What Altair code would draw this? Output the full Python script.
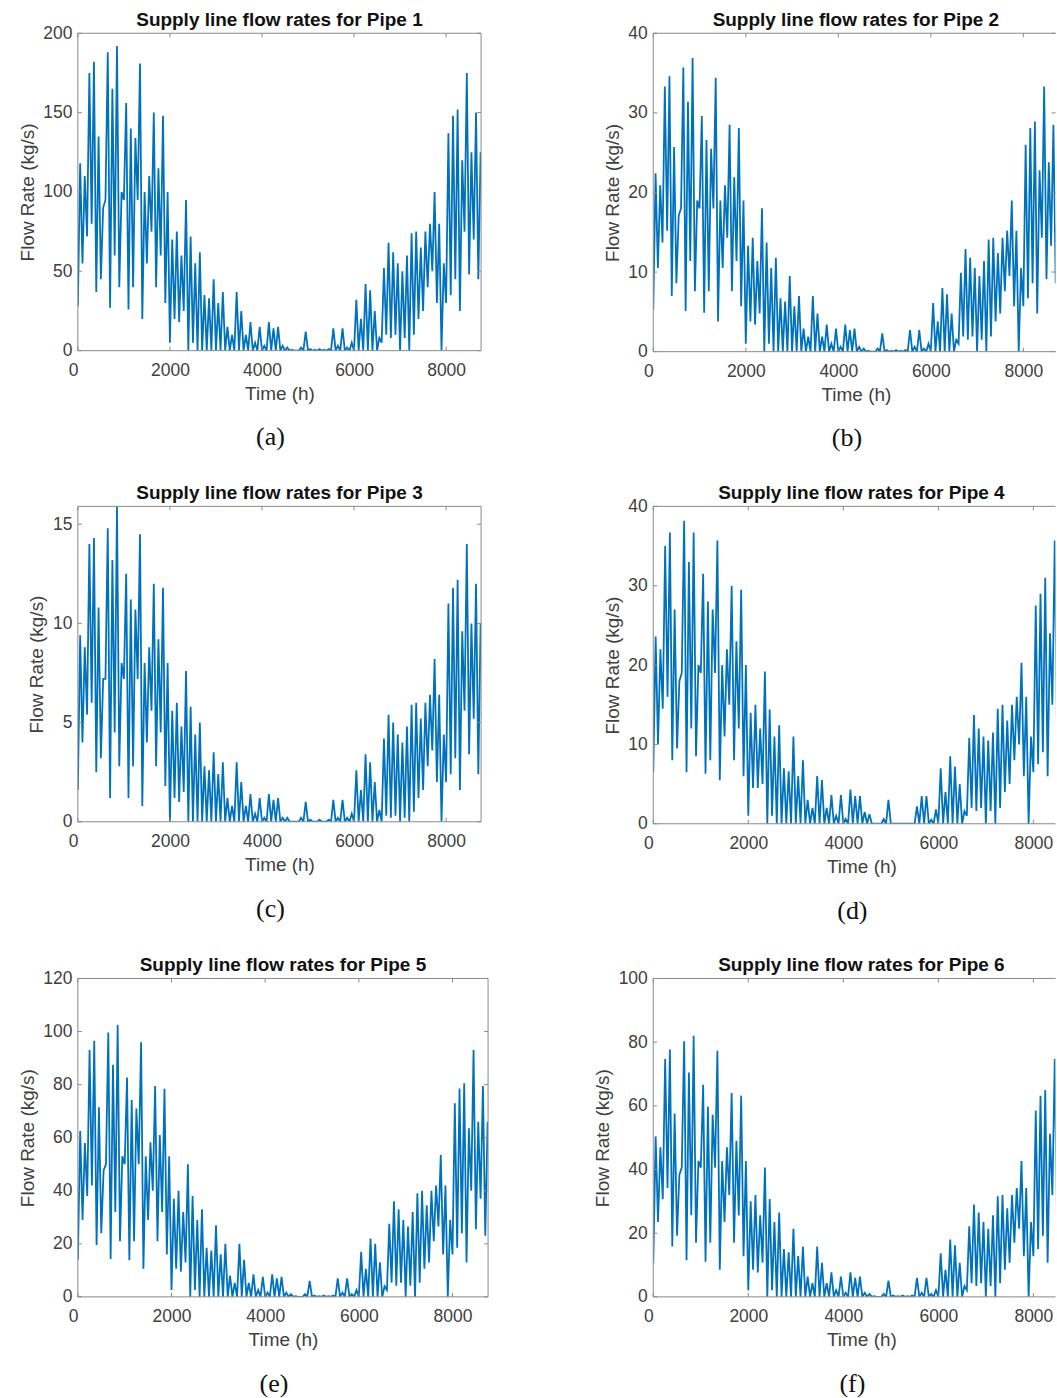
import altair as alt
import pandas as pd

# ---------------- data (hi/lo envelope per 100 h bin) ----------------
BIN_HOURS = 100
X_MAX = 8760
X_TICKS = [0, 2000, 4000, 6000, 8000]

titles = [
    "Supply line flow rates for Pipe 1",
    "Supply line flow rates for Pipe 2",
    "Supply line flow rates for Pipe 3",
    "Supply line flow rates for Pipe 4",
    "Supply line flow rates for Pipe 5",
    "Supply line flow rates for Pipe 6",
]
captions = ["(a)", "(b)", "(c)", "(d)", "(e)", "(f)"]
y_max = [200, 40, 15.9, 40, 120, 100]
y_ticks = [
    [0, 50, 100, 150, 200],
    [0, 10, 20, 30, 40],
    [0, 5, 10, 15],
    [0, 10, 20, 30, 40],
    [0, 20, 40, 60, 80, 100, 120],
    [0, 20, 40, 60, 80, 100],
]

p1_hi = [118, 110, 175, 182, 135, 90, 188, 165, 192, 100,
         156, 140, 134, 181, 100, 110, 150, 115, 148, 100,
         70, 75, 60, 95, 72, 55, 62, 35, 33, 45,
         30, 37, 15, 10, 37, 25, 10, 18, 5, 15,
         3, 18, 14, 15, 3, 2, 0.5, 0, 2, 12,
         1, 0.5, 1, 0.5, 1, 14, 3, 14, 2, 5,
         32, 20, 42, 38, 25, 8, 52, 68, 62, 55,
         50, 60, 74, 75, 65, 75, 80, 100, 80, 55,
         137, 148, 152, 120, 175, 125, 150, 125]
p1_lo = [28, 55, 72, 80, 37, 45, 95, 27, 60, 40,
         95, 26, 40, 95, 20, 55, 75, 40, 60, 30,
         5, 20, 18, 25, 0, 5, 0, 0, 0, 0,
         0, 0, 0, 0, 0, 0, 0, 0, 0, 0,
         0, 0, 0, 0, 0, 0, 0, 0, 0, 0,
         0, 0, 0, 0, 0, 0, 0, 0, 0, 0,
         0, 0, 0, 0, 0, 0, 5, 10, 8, 10,
         0, 8, 0, 10, 20, 25, 40, 50, 30, 0,
         30, 35, 45, 25, 75, 48, 70, 45]

p2_hi = [22.4, 20.9, 33.3, 34.6, 25.7, 17.1, 35.7, 31.4, 36.9, 19,
         29.6, 26.6, 25.5, 34.4, 19, 20.9, 28.5, 21.9, 28.1, 19,
         13.3, 14.3, 11.4, 18, 13.7, 10.5, 11.8, 6.7, 6.3, 9.5,
         5.7, 7, 2.9, 1.9, 7, 4.8, 1.9, 3.4, 1, 2.9,
         0.6, 3.4, 2.7, 2.9, 0.6, 0.4, 0.1, 0, 0.4, 2.3,
         0.2, 0.1, 0.2, 0.1, 0.2, 2.7, 0.6, 2.7, 0.4, 1,
         6.1, 3.8, 8, 7.2, 4.8, 1.5, 9.9, 12.9, 11.8, 10.5,
         9.5, 11.4, 14.1, 14.3, 12.4, 14.3, 15.2, 19, 15.2, 10.5,
         26, 28.1, 28.9, 22.8, 33.3, 23.8, 28.5, 23.8]
p2_lo = [5.3, 10.5, 13.7, 15.2, 7, 8.6, 18, 5.1, 11.4, 7.6,
         18, 4.9, 7.6, 18, 3.8, 10.5, 14.3, 7.6, 11.4, 5.7,
         1, 3.8, 3.4, 4.8, 0, 1, 0, 0, 0, 0,
         0, 0, 0, 0, 0, 0, 0, 0, 0, 0,
         0, 0, 0, 0, 0, 0, 0, 0, 0, 0,
         0, 0, 0, 0, 0, 0, 0, 0, 0, 0,
         0, 0, 0, 0, 0, 0, 1, 1.9, 1.5, 1.9,
         0, 1.5, 0, 1.9, 3.8, 4.8, 7.6, 9.5, 5.7, 0,
         5.7, 6.7, 8.6, 4.8, 14.3, 9.1, 13.3, 8.6]

p3_hi = [9.4, 8.8, 14, 14.3, 10.8, 7.2, 14.8, 13.2, 15.9, 8,
         12.5, 11.2, 10.7, 14.5, 8, 8.8, 12, 9.2, 11.8, 8,
         5.6, 6, 4.8, 7.6, 5.8, 4.4, 5, 2.8, 2.6, 3.5,
         2.4, 3, 1.2, 0.8, 3, 2, 0.8, 1.4, 0.4, 1.2,
         0.2, 1.4, 1.1, 1.2, 0.2, 0.2, 0, 0, 0.2, 1,
         0.1, 0, 0.1, 0, 0.1, 1.1, 0.2, 1.1, 0.2, 0.4,
         2.6, 1.6, 3.4, 3, 2, 0.6, 4.2, 5.4, 5, 4.4,
         4, 4.8, 5.9, 6, 5.2, 6, 6.4, 8.2, 6.4, 4.4,
         11, 11.8, 12.2, 9.6, 14, 10, 12, 10]
p3_lo = [1.6, 4, 5.4, 6, 2.5, 3.2, 7.2, 1.2, 4.5, 2.8,
         7.2, 1.2, 2.8, 7.2, 0.8, 4, 5.6, 2.8, 4.5, 1.8,
         0, 1.2, 1, 1.5, 0, 0, 0, 0, 0, 0,
         0, 0, 0, 0, 0, 0, 0, 0, 0, 0,
         0, 0, 0, 0, 0, 0, 0, 0, 0, 0,
         0, 0, 0, 0, 0, 0, 0, 0, 0, 0,
         0, 0, 0, 0, 0, 0, 0, 0.3, 0.2, 0.3,
         0, 0.2, 0, 0.5, 1.2, 1.6, 2.8, 3.6, 2, 0,
         2, 2.4, 3.2, 1.6, 5.6, 3.4, 5.2, 2.4]

p4_hi = [23.6, 22, 35, 36.7, 27, 18, 38.2, 33, 36.7, 20,
         31.5, 28, 27, 35.7, 20, 22, 30, 23, 29.5, 20,
         14, 15, 12, 19.2, 14.4, 11, 12.4, 7, 6.6, 11,
         6, 8, 3, 2, 6, 5.5, 2, 3.6, 1, 3.6,
         0.6, 4.3, 3.5, 3.5, 1.5, 1.2, 0, 0, 0.6, 3,
         0, 0, 0, 0, 0, 2.2, 3.5, 3.5, 0.5, 1.8,
         7, 4, 8.5, 7.2, 5, 1.6, 10.8, 13.7, 12, 11,
         10.5, 11.5, 14.5, 15, 13, 15, 16, 20.3, 16, 11,
         27.5, 29, 31, 24, 35.7, 25, 30, 25]
p4_lo = [6.5, 10, 14.5, 16, 8, 9.5, 19, 6.5, 12, 8.5,
         19, 6.3, 8, 19, 5.5, 11, 15, 8, 12, 6,
         1, 4.5, 4.5, 5, 0, 1, 0, 0, 0, 0,
         0, 0, 0, 0, 0, 0, 0, 0, 0, 0,
         0, 0, 0, 0, 0, 0, 0, 0, 0, 0,
         0, 0, 0, 0, 0, 0, 0, 0, 0, 0,
         0, 0, 0, 0, 0, 0, 1, 2, 1.6, 2,
         0, 1.6, 0, 2, 4, 5, 8, 10, 6, 0,
         6.5, 7.5, 9, 6, 15, 9.6, 14, 9]

p5_hi = [62.5, 58, 93, 96.5, 71.5, 47.7, 99.6, 87.5, 102.5, 53,
         82.7, 74.2, 71, 96, 53, 58.3, 79.5, 61, 78.4, 53,
         37, 40, 32, 50, 38, 29, 33, 18.5, 17.5, 27,
         16, 20, 8, 5.3, 20, 14, 5.3, 8.5, 2.6, 7.5,
         1.6, 8.5, 7, 7.5, 1.6, 1, 0.3, 0, 1, 6,
         0.5, 0.3, 0.5, 0.3, 0.5, 7, 1.6, 7, 1, 2.6,
         17, 10.6, 22, 20, 13, 4, 27.5, 36, 33, 29,
         26.5, 32, 39, 40, 34.5, 40, 42, 53.5, 42, 29,
         73, 78.5, 80.5, 63.5, 93, 66, 79.5, 66]
p5_lo = [14, 29, 38, 42, 19.6, 24, 50, 14.3, 32, 21,
         50, 13.8, 21, 50, 10.6, 29, 40, 21, 32, 16,
         2.6, 10.6, 9.5, 13, 0, 2.6, 0, 0, 0, 0,
         0, 0, 0, 0, 0, 0, 0, 0, 0, 0,
         0, 0, 0, 0, 0, 0, 0, 0, 0, 0,
         0, 0, 0, 0, 0, 0, 0, 0, 0, 0,
         0, 0, 0, 0, 0, 0, 2.6, 5.3, 4.2, 5.3,
         0, 4.2, 0, 5.3, 10.6, 13, 21, 26.5, 16, 0,
         16, 18.5, 24, 13, 40, 25.5, 37, 23]

p6_hi = [50.4, 47, 74.7, 77.7, 57.6, 38.4, 80.3, 70.5, 82, 42.7,
         66.6, 59.8, 57.2, 77.3, 42.7, 47, 64, 49, 63.2, 42.7,
         30, 32, 25.6, 40.6, 30.7, 23.5, 26.5, 15, 14, 21.4,
         12.8, 15.8, 6.4, 4.3, 15.8, 10.7, 4.3, 7.7, 2.1, 6.4,
         1.3, 7.7, 6, 6.4, 1.3, 0.9, 0.2, 0, 0.9, 5.1,
         0.4, 0.2, 0.4, 0.2, 0.4, 6, 1.3, 6, 0.9, 2.1,
         13.7, 8.5, 18, 16.2, 10.7, 3.4, 22.2, 29, 26.5, 23.5,
         21.4, 25.6, 31.6, 32, 27.8, 32, 34.2, 42.7, 34.2, 23.5,
         58.5, 63.2, 65, 51.2, 74.7, 53.4, 64, 53.4]
p6_lo = [10.5, 23.5, 30.7, 34.2, 15.8, 19.2, 40.6, 11.5, 25.6, 17,
         40.6, 11, 17, 40.6, 8.5, 23.5, 32, 17, 25.6, 12.8,
         2.1, 8.5, 7.7, 10.7, 0, 2.1, 0, 0, 0, 0,
         0, 0, 0, 0, 0, 0, 0, 0, 0, 0,
         0, 0, 0, 0, 0, 0, 0, 0, 0, 0,
         0, 0, 0, 0, 0, 0, 0, 0, 0, 0,
         0, 0, 0, 0, 0, 0, 2.1, 4.3, 3.4, 4.3,
         0, 3.4, 0, 4.3, 8.5, 10.7, 17, 21.4, 12.8, 0,
         12.8, 15, 19.2, 10.7, 32, 20.5, 30, 19.2]

series = [(p1_hi, p1_lo), (p2_hi, p2_lo), (p3_hi, p3_lo),
          (p4_hi, p4_lo), (p5_hi, p5_lo), (p6_hi, p6_lo)]

# ---------------- style / layout ----------------
# full plot width (px spanned by the whole year) and the part visible inside the page
full_widths = [404, 406, 404, 417, 411, 417]
vis_widths = [404, 403, 404, 403, 411, 403]
heights = [318, 319, 316, 318, 319, 319]
right_border = [True, False, True, False, True, False]
right_ticks = [True, True, True, False, True, False]

LINE = "#0072BD"
FRAME = "#8a8a8a"
LABEL = "#404040"
SANS = "Liberation Sans"
SERIF = "Liberation Serif"


def series_frame(hi, lo):
    t, v = [], []
    for k, (h, l) in enumerate(zip(hi, lo)):
        t += [k * BIN_HOURS, k * BIN_HOURS + BIN_HOURS // 2]
        v += [l, h]
    return pd.DataFrame({"t": t, "v": v})


def make_panel(i):
    w, h, fw = vis_widths[i], heights[i], full_widths[i]
    x_end = X_MAX * w / fw
    hi, lo = series[i]
    x_enc = alt.X(
        "t:Q",
        scale=alt.Scale(domain=[0, x_end], nice=False, zero=False),
        axis=alt.Axis(
            values=X_TICKS, title="Time (h)", format="d", labelPadding=10.5, titlePadding=5.5,
            labelFlush=False, titleX=fw / 2,
            labelAlign={"condition": {"test": "datum.value === 0", "value": "right"}, "value": "center"},
        ),
    )
    y_enc = alt.Y(
        "v:Q",
        scale=alt.Scale(domain=[0, y_max[i]], nice=False),
        axis=alt.Axis(values=y_ticks[i], title="Flow Rate (kg/s)", format="d",
                      labelPadding=6, titlePadding=5.5),
    )
    layers = []
    layers.append(alt.Chart(series_frame(hi, lo)).mark_line(
        color=LINE, strokeWidth=1.8, clip=True
    ).encode(x=x_enc, y=y_enc))

    one = pd.DataFrame({"k": [0]})
    rule = dict(color=FRAME, strokeWidth=1)
    layers.append(alt.Chart(one).mark_rule(**rule).encode(x=alt.value(0), x2=alt.value(w), y=alt.value(0)))
    layers.append(alt.Chart(one).mark_rule(**rule).encode(x=alt.value(0), x2=alt.value(w), y=alt.value(h)))
    layers.append(alt.Chart(one).mark_rule(**rule).encode(x=alt.value(0), y=alt.value(0), y2=alt.value(h)))
    if right_border[i]:
        layers.append(alt.Chart(one).mark_rule(**rule).encode(x=alt.value(w), y=alt.value(0), y2=alt.value(h)))

    xt = pd.DataFrame({"t": X_TICKS})
    yt = pd.DataFrame({"v": y_ticks[i]})
    layers.append(alt.Chart(xt).mark_rule(**rule).encode(x=x_enc, y=alt.value(h), y2=alt.value(h - 4)))
    layers.append(alt.Chart(xt).mark_rule(**rule).encode(x=x_enc, y=alt.value(0), y2=alt.value(4)))
    layers.append(alt.Chart(yt).mark_rule(**rule).encode(y=y_enc, x=alt.value(0), x2=alt.value(4)))
    if right_ticks[i]:
        layers.append(alt.Chart(yt).mark_rule(**rule).encode(y=y_enc, x=alt.value(w), x2=alt.value(w - 4)))

    layers.append(alt.Chart(pd.DataFrame({"c": [titles[i]]})).mark_text(
        font=SANS, fontSize=19, fontWeight="bold", baseline="alphabetic", align="center",
        color="#111111"
    ).encode(x=alt.value(fw / 2), y=alt.value(-7.5), text="c:N"))

    layers.append(alt.Chart(pd.DataFrame({"c": [captions[i]]})).mark_text(
        font=SERIF, fontSize=26, baseline="alphabetic", align="center", color="#111111"
    ).encode(x=alt.value(fw / 2 - 9), y=alt.value(h + 95), text="c:N"))

    return alt.layer(*layers).properties(width=w, height=h)


panels = [make_panel(i) for i in range(6)]

chart = alt.concat(*panels, columns=2, spacing={"row": 31, "column": 103.5}).properties(
    padding={"left": 17, "top": 9, "right": 0, "bottom": 0}
).configure_view(
    stroke="transparent"
).configure_axis(
    domain=False, grid=False, ticks=False, tickSize=0,
    labelFont=SANS, labelFontSize=17.5, labelColor=LABEL,
    titleFont=SANS, titleFontSize=19, titleFontWeight="normal", titleColor=LABEL,
)

chart.save("out.html", embed_options={"renderer": "svg", "actions": False})
